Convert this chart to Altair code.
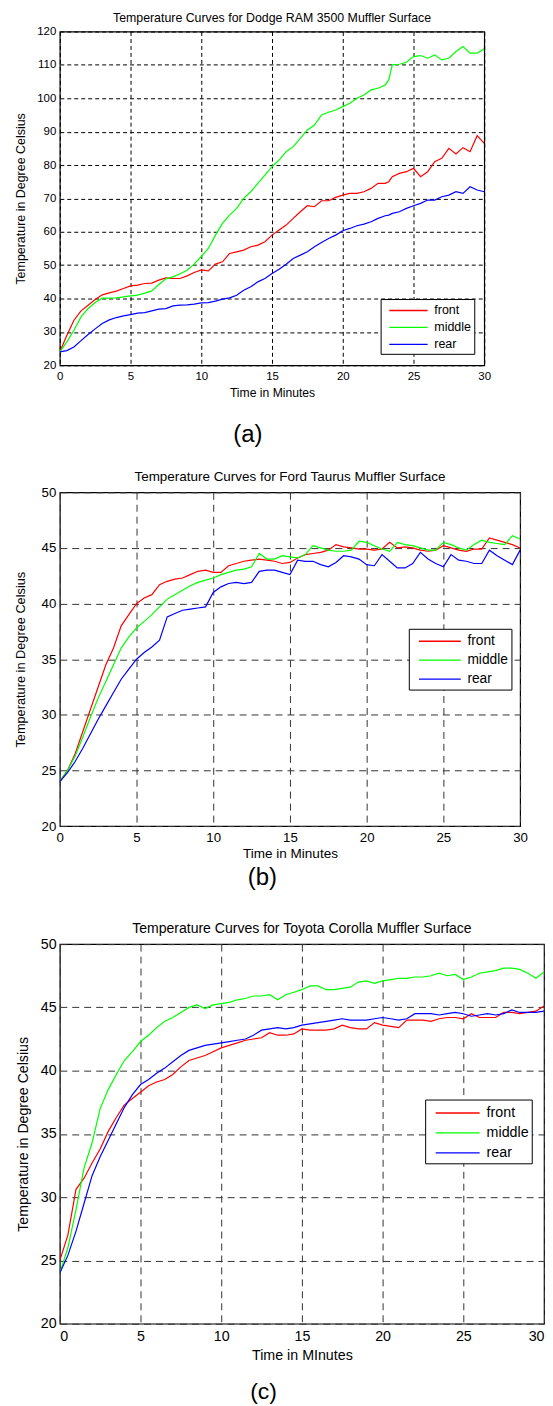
import altair as alt
import pandas as pd

FONT = "Liberation Sans"
SERIES = ["front", "middle", "rear"]
COLORS = ["#ff0000", "#00ff00", "#0000ff"]

# ---------------- Panel (a): Dodge RAM 3500 ----------------
time_a = [0, 0.5, 1, 1.5, 2, 2.5, 3, 3.5, 4, 4.5, 5, 5.5, 6, 6.5, 7, 7.5, 8, 8.5, 9, 9.5,
          10, 10.5, 11, 11.5, 12, 12.5, 13, 13.5, 14, 14.5, 15, 15.5, 16, 16.5, 17, 17.5,
          18, 18.5, 19, 19.5, 20, 20.5, 21, 21.5, 22, 22.5, 23, 23.25, 23.5, 24, 24.5, 25,
          25.5, 26, 26.5, 27, 27.5, 28, 28.5, 29, 29.5, 30]
front_a = [24, 29, 33.5, 36.3, 38, 39.7, 41.1, 41.7, 42.2, 43, 43.8, 44, 44.5, 44.6, 45.5, 46.2,
           46, 46, 46.8, 47.8, 48.6, 48.3, 50.3, 51, 53.5, 54, 54.5, 55.5, 56, 57, 59, 60.5,
           62, 64, 66, 67.8, 67.5, 69.3, 69.3, 70.3, 71, 71.5, 71.5, 72, 73, 74.5, 74.5, 75,
           76.5, 77.5, 78, 79, 76.5, 78, 81, 82, 85, 83.3, 85.2, 84, 88.8, 86.5]
middle_a = [24, 27, 30.5, 34.5, 37, 38.8, 40.1, 40.1, 40.2, 40.5, 40.8, 41, 41.6, 42.3, 44.2, 45.9,
            46.5, 47.4, 48.5, 50.3, 52.6, 55, 59, 62.5, 65, 67, 70, 72, 74.5, 77, 79.5, 81.5,
            84, 85.5, 88, 90.5, 92, 95, 95.8, 96.5, 97.5, 98.5, 100, 101, 102.5, 103, 104, 105.5,
            110, 110.2, 110.8, 112.5, 112.8, 112, 113, 111.5, 112, 114, 115.5, 113.5, 113.5, 114.8]
rear_a = [24, 24.4, 25.5, 27.4, 29.2, 30.9, 32.5, 33.6, 34.3, 34.8, 35.2, 35.6, 35.8, 36.3, 36.8, 37,
          37.8, 38, 38.1, 38.3, 38.7, 38.8, 39.2, 39.8, 40.2, 41, 42.5, 43.5, 45, 46, 47.5, 48.8,
          50.3, 52, 53, 54, 55.5, 56.8, 58, 59, 60.3, 61, 61.8, 62.3, 63, 64, 64.8, 65,
          65.5, 66, 67, 67.8, 68.5, 69.5, 69.5, 70.5, 71, 72, 71.5, 73.5, 72.5, 72]

# ---------------- Panels (b) and (c): common time grid ----------------
time_bc = [0, 0.5, 1, 1.5, 2, 2.5, 3, 3.5, 4, 4.5, 5, 5.5, 6, 6.5, 7, 7.5, 8, 8.5, 9, 9.5,
           10, 10.5, 11, 11.5, 12, 12.5, 13, 13.5, 14, 14.5, 15, 15.5, 16, 16.5, 17, 17.5,
           18, 18.5, 19, 19.5, 20, 20.5, 21, 21.5, 22, 22.5, 23, 23.5, 24, 24.5, 25,
           25.5, 26, 26.5, 27, 27.5, 28, 28.5, 29, 29.5, 30]

# Panel (b): Ford Taurus
front_b = [24, 25, 26.5, 28.5, 30.5, 32.5, 34.5, 36, 38, 39, 40, 40.5, 40.8, 41.7, 42, 42.2,
           42.3, 42.6, 42.9, 43, 42.8, 42.8, 43.4, 43.6, 43.8, 43.9, 44, 43.9, 43.8, 43.6, 43.7,
           44.1, 44.4, 44.5, 44.6, 44.8, 45.3, 45.1, 45, 44.9, 44.9, 44.8, 44.9, 45.5, 45, 45.1,
           45, 44.8, 44.7, 44.8, 45.2, 45, 44.8, 44.7, 44.9, 44.9, 45.9, 45.7, 45.5, 45.3, 45]
middle_b = [24, 25, 26.3, 28, 29.8, 31.5, 33, 34.5, 36, 37, 37.8, 38.4, 39, 39.7, 40.4, 40.8,
            41.2, 41.6, 41.9, 42.1, 42.3, 42.6, 42.8, 43, 43.1, 43.3, 44.5, 44, 44, 44.3, 44.2,
            44.1, 44.4, 45.2, 45, 44.8, 44.7, 44.7, 44.8, 45.6, 45.5, 45.2, 44.9, 44.7, 45.5, 45.3,
            45.2, 45, 44.8, 44.8, 45.5, 45.3, 45, 44.8, 45.3, 45.7, 45.5, 45.4, 45.3, 46.1, 45.8]
rear_b = [24, 24.8, 25.8, 27, 28.3, 29.6, 30.8, 32, 33.2, 34.1, 35, 35.6, 36.1, 36.7, 38.8, 39.1,
          39.4, 39.5, 39.6, 39.7, 41, 41.5, 41.8, 41.9, 41.8, 41.9, 42.9, 43, 43, 42.8, 42.6,
          43.9, 43.8, 43.8, 43.5, 43.3, 43.7, 44.3, 44.2, 44, 43.5, 43.4, 44.4, 43.8, 43.2, 43.2,
          43.6, 44.6, 44, 43.6, 43.3, 44.4, 43.9, 43.8, 43.6, 43.6, 44.8, 44.3, 43.9, 43.5, 44.8]

# Panel (c): Toyota Corolla
front_c = [25, 27, 30.6, 31.5, 32.7, 33.8, 35.2, 36.3, 37.3, 37.8, 38.3, 38.8, 39.1, 39.3, 39.7, 40.3,
           40.8, 41, 41.2, 41.5, 41.8, 42, 42.2, 42.4, 42.5, 42.6, 43, 42.8, 42.8, 42.9, 43.3,
           43.2, 43.2, 43.2, 43.3, 43.6, 43.4, 43.3, 43.3, 43.8, 43.6, 43.5, 43.4, 44, 44, 44,
           43.9, 44.1, 44.2, 44.2, 44.1, 44.5, 44.2, 44.2, 44.2, 44.6, 44.6, 44.5, 44.6, 44.7, 45.1]
middle_c = [24, 26, 29, 32.3, 34.3, 37, 38.5, 39.7, 40.8, 41.5, 42.3, 42.8, 43.4, 43.9, 44.2, 44.6,
            45, 45.2, 44.9, 45.2, 45.3, 45.4, 45.6, 45.7, 45.9, 45.9, 46, 45.6, 46, 46.2, 46.4,
            46.7, 46.7, 46.4, 46.4, 46.5, 46.6, 47, 47.1, 46.9, 47.1, 47.2, 47.3, 47.3, 47.4, 47.4,
            47.5, 47.7, 47.5, 47.6, 47.2, 47.4, 47.7, 47.8, 47.9, 48.1, 48.1, 48, 47.7, 47.3, 47.8]
rear_c = [24, 25.4, 27.3, 29.5, 31.7, 33.2, 34.5, 35.8, 37.1, 38.1, 38.9, 39.3, 39.8, 40.2, 40.7, 41.2,
          41.6, 41.8, 42, 42.1, 42.2, 42.3, 42.4, 42.5, 42.8, 43.2, 43.3, 43.4, 43.3, 43.4, 43.6,
          43.7, 43.8, 43.9, 44, 44.1, 44, 44, 44, 44.1, 44.2, 44.1, 44, 44.1, 44.5, 44.5,
          44.5, 44.4, 44.5, 44.6, 44.5, 44.3, 44.4, 44.5, 44.4, 44.5, 44.8, 44.6, 44.6, 44.6, 44.7]

x_ticks = [0, 5, 10, 15, 20, 25, 30]
y_ticks_a = [20, 30, 40, 50, 60, 70, 80, 90, 100, 110, 120]
y_ticks_bc = [20, 25, 30, 35, 40, 45, 50]


def make_df(time, front, middle, rear):
    rows = []
    for name, vals in zip(SERIES, [front, middle, rear]):
        for t, v in zip(time, vals):
            rows.append({"time": t, "temp": v, "series": name})
    return pd.DataFrame(rows)


def panel(df, p):
    lines = alt.Chart(df).mark_line(strokeWidth=1.2, clip=True).encode(
        x=alt.X("time:Q",
                scale=alt.Scale(domain=[0, 30], nice=False, zero=False),
                axis=alt.Axis(values=x_ticks, title=p["xtitle"], grid=True,
                              gridDash=p["dash"], gridColor=p["gridcolor"], gridWidth=1,
                              domain=False, ticks=False, tickSize=0, labelFlush=p["flush"],
                              labelFont=FONT, labelFontSize=p["tickfs"], labelColor="black",
                              labelPadding=p["xlabpad"], titleFont=FONT,
                              titleFontSize=p["xtitlefs"], titleFontWeight="normal",
                              titleColor="black", titlePadding=p["xtitlepad"])),
        y=alt.Y("temp:Q",
                scale=alt.Scale(domain=p["ydomain"], nice=False, zero=False),
                axis=alt.Axis(values=p["yticks"], title="Temperature in Degree Celsius",
                              grid=True, gridDash=p["dash"], gridColor=p["gridcolor"],
                              gridWidth=1, domain=False, ticks=False, tickSize=0,
                              labelFont=FONT, labelFontSize=p["tickfs"], labelColor="black",
                              labelPadding=p["ylabpad"], titleFont=FONT,
                              titleFontSize=p["ytitlefs"], titleFontWeight="normal",
                              titleColor="black", titlePadding=p["ytitlepad"])),
        color=alt.Color("series:N",
                        scale=alt.Scale(domain=SERIES, range=COLORS),
                        legend=alt.Legend(orient="none", legendX=p["lx"], legendY=p["ly"],
                                          title=None, fillColor="white", strokeColor="black",
                                          padding=3, rowPadding=2,
                                          symbolType="M-%s,0L%s,0" % (p["k"], p["k"]),
                                          symbolSize=p["s"] * p["s"], symbolStrokeWidth=1.3,
                                          symbolOffset=p["so"], labelOffset=p["lo"],
                                          labelFont=FONT, labelFontSize=p["lfs"],
                                          labelColor="black")),
    )
    tag = alt.Chart(pd.DataFrame({"tag": [p["tag"]]})).mark_text(
        font=FONT, fontSize=p["tagfs"], baseline="middle", align="center", color="black"
    ).encode(text="tag:N", x=alt.value(p["tagx"]), y=alt.value(p["h"] + p["tagy"]))
    return alt.layer(lines, tag).properties(
        width=p["w"], height=p["h"],
        title=alt.TitleParams(text=p["title"], font=FONT, fontSize=p["titlefs"],
                              fontWeight="normal", color="black", offset=p["toff"],
                              anchor="middle", frame="group"),
    )


pa = dict(w=426, h=335, ydomain=[20, 120], yticks=y_ticks_a,
          title="Temperature Curves for Dodge RAM 3500 Muffler Surface", titlefs=12.4, toff=1.5,
          xtitle="Time in Minutes", tickfs=11.5, xtitlefs=12.2, ytitlefs=12.5, flush=False,
          ylabpad=4, ytitlepad=9.5, xlabpad=5, xtitlepad=5, dash=[4, 3], gridcolor="#000000",
          lx=322, ly=268.5, s=15, k=2.567, so=16.45, lo=17.45, lfs=12.5,
          tag="(a)", tagx=188.7, tagy=70.5, tagfs=24)
pb = dict(w=462, h=335, ydomain=[20, 50], yticks=y_ticks_bc,
          title="Temperature Curves for Ford Taurus Muffler Surface", titlefs=13.5, toff=2,
          xtitle="Time in Minutes", tickfs=13.3, xtitlefs=13.6, ytitlefs=12.8, flush=False,
          ylabpad=4, ytitlepad=13.2, xlabpad=4, xtitlepad=3, dash=[7, 5], gridcolor="#333333",
          lx=350.3, ly=137, s=17, k=2.47, so=18.7, lo=18.1, lfs=13.8,
          tag="(b)", tagx=203.3, tagy=52, tagfs=24)
pc = dict(w=486, h=381, ydomain=[20, 50], yticks=y_ticks_bc,
          title="Temperature Curves for Toyota Corolla Muffler Surface", titlefs=14.1, toff=1,
          xtitle="Time in MInutes", tickfs=14.3, xtitlefs=14.3, ytitlefs=14.2, flush=True,
          ylabpad=3.6, ytitlepad=9.7, xlabpad=6, xtitlepad=4.7, dash=[7, 5], gridcolor="#333333",
          lx=366.7, ly=156, s=19, k=2.32, so=19.15, lo=18.55, lfs=14.3,
          tag="(c)", tagx=204.5, tagy=69, tagfs=23)

A = panel(make_df(time_a, front_a, middle_a, rear_a), pa)
B = panel(make_df(time_bc, front_b, middle_b, rear_b), pb)
C = panel(make_df(time_bc, front_c, middle_c, rear_c), pc)

top = alt.vconcat(A, B, spacing=19.5).resolve_scale(x="independent", y="independent",
                                                     color="independent")
chart = alt.vconcat(top, C, spacing=30).resolve_scale(
    x="independent", y="independent", color="independent"
).properties(
    padding={"left": 5, "top": 0, "right": 0, "bottom": 0},
    background="white",
).configure_view(stroke="black", strokeWidth=1.2)

chart.save("out.html", embed_options={"renderer": "svg", "actions": False})
